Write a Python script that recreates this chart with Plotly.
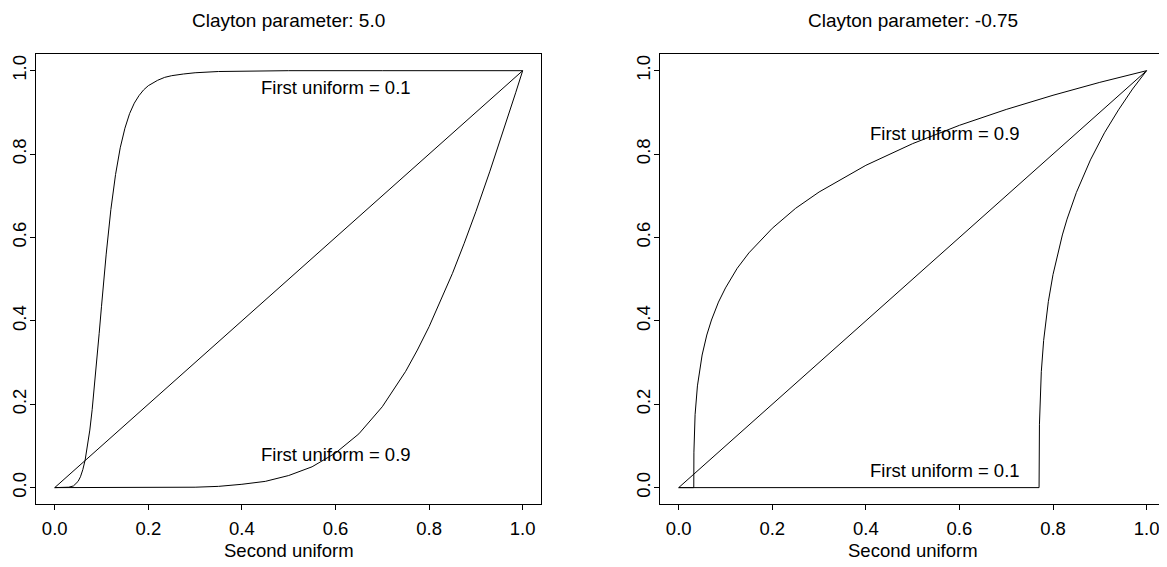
import plotly.graph_objects as go

# ---- data ----
titles = ["Clayton parameter: 5.0", "Clayton parameter: -0.75"]
x_label = "Second uniform"
x_ticks = [0.0, 0.2, 0.4, 0.6, 0.8, 1.0]
tick_text = ["0.0", "0.2", "0.4", "0.6", "0.8", "1.0"]

diag_x = [0.0, 1.0]
diag_y = [0.0, 1.0]

# left panel (theta = 5.0), first uniform = 0.1
l_u01_x = [0.0, 0.02, 0.03, 0.04, 0.05, 0.055, 0.06, 0.065, 0.07, 0.075, 0.08, 0.085,
           0.09, 0.095, 0.10, 0.105, 0.11, 0.12, 0.13, 0.14, 0.15, 0.16, 0.17, 0.18,
           0.19, 0.20, 0.21, 0.22, 0.235, 0.25, 0.275, 0.30, 0.35, 0.40, 0.50, 0.70, 1.0]
l_u01_y = [0.0, 0.0, 0.001, 0.004, 0.015, 0.026, 0.043, 0.066, 0.098, 0.138, 0.187, 0.243,
           0.305, 0.370, 0.435, 0.500, 0.560, 0.667, 0.751, 0.815, 0.862, 0.897, 0.922, 0.940,
           0.954, 0.964, 0.971, 0.977, 0.984, 0.988, 0.992, 0.995, 0.998, 0.999, 1.0, 1.0, 1.0]

# left panel, first uniform = 0.9
l_u09_x = [0.0, 0.1, 0.2, 0.3, 0.35, 0.4, 0.45, 0.5, 0.55, 0.6, 0.65, 0.7, 0.75,
           0.775, 0.8, 0.825, 0.85, 0.875, 0.9, 0.93, 0.95, 0.97, 0.985, 1.0]
l_u09_y = [0.0, 0.0, 0.0, 0.001, 0.003, 0.008, 0.015, 0.029, 0.05, 0.083, 0.129, 0.194,
           0.279, 0.330, 0.386, 0.448, 0.514, 0.586, 0.662, 0.759, 0.826, 0.895, 0.947, 1.0]

# right panel (theta = -0.75), first uniform = 0.9
r_u09_x = [0.0, 0.0322, 0.0325, 0.033, 0.035, 0.04, 0.045, 0.05, 0.06, 0.07, 0.085,
           0.10, 0.125, 0.15, 0.20, 0.25, 0.30, 0.40, 0.50, 0.60, 0.70, 0.80, 0.90, 1.0]
r_u09_y = [0.0, 0.0, 0.085, 0.116, 0.175, 0.244, 0.287, 0.318, 0.366, 0.402, 0.445,
           0.479, 0.526, 0.563, 0.622, 0.670, 0.709, 0.773, 0.825, 0.869, 0.907, 0.941,
           0.972, 1.0]

# right panel, first uniform = 0.1
r_u01_x = [0.0, 0.7702, 0.771, 0.7725, 0.775, 0.78, 0.79, 0.80, 0.82, 0.83, 0.85, 0.88,
           0.91, 0.94, 0.97, 1.0]
r_u01_y = [0.0, 0.0, 0.152, 0.218, 0.278, 0.353, 0.446, 0.511, 0.606, 0.644, 0.708, 0.786,
           0.851, 0.906, 0.956, 1.0]

labels = [
    ("x", "y", 0.6, 0.96, "First uniform = 0.1"),
    ("x", "y", 0.6, 0.08, "First uniform = 0.9"),
    ("x2", "y2", 0.57, 0.85, "First uniform = 0.9"),
    ("x2", "y2", 0.57, 0.04, "First uniform = 0.1"),
]

FONT = "Liberation Sans, Arial, sans-serif"
FS = 18.5
W, H = 1159, 559  # page body has an 8px offset
line = dict(color="black", width=1)

fig = go.Figure()
for xa, ya, sets in [
    ("x", "y", [(l_u01_x, l_u01_y), (l_u09_x, l_u09_y), (diag_x, diag_y)]),
    ("x2", "y2", [(r_u09_x, r_u09_y), (r_u01_x, r_u01_y), (diag_x, diag_y)]),
]:
    for xs, ys in sets:
        fig.add_trace(go.Scatter(x=xs, y=ys, mode="lines", line=line,
                                 xaxis=xa, yaxis=ya, showlegend=False,
                                 hoverinfo="skip"))

ax_common = dict(
    range=[-0.04, 1.04], showgrid=False, zeroline=False, showline=True,
    linecolor="black", linewidth=1, mirror=True, ticks="outside", ticklen=5,
    tickcolor="black", tickwidth=1, tickvals=x_ticks, ticktext=tick_text,
    tickfont=dict(family=FONT, size=FS, color="black"), automargin=False,
)

ydom = [(H - 496.3) / H, (H - 46) / H]
lx = [28 / W, 533.4 / W]
rx = [652 / W, 1157.3 / W]
fig.update_layout(
    width=W, height=H, margin=dict(l=0, r=0, t=0, b=0, autoexpand=False),
    paper_bgcolor="white", plot_bgcolor="white",
    font=dict(family=FONT, size=FS, color="black"),
    xaxis=dict(domain=lx, anchor="y", ticklabelstandoff=2, **ax_common),
    yaxis=dict(domain=ydom, anchor="x", tickangle=-90, ticklabelstandoff=-3, **ax_common),
    xaxis2=dict(domain=rx, anchor="y2", ticklabelstandoff=2, **ax_common),
    yaxis2=dict(domain=ydom, anchor="x2", tickangle=-90, ticklabelstandoff=-3, **ax_common),
)

# titles and x-axis labels
for t, dom in zip(titles, [lx, rx]):
    cx = (dom[0] + dom[1]) / 2
    fig.add_annotation(text=t, xref="paper", yref="paper", x=cx, y=1 - 12.5 / H,
                       showarrow=False, xanchor="center", yanchor="middle",
                       font=dict(family=FONT, size=19, color="black"))
    fig.add_annotation(text=x_label, xref="paper", yref="paper", x=cx, y=1 - 542 / H,
                       showarrow=False, xanchor="center", yanchor="middle",
                       font=dict(family=FONT, size=FS, color="black"))

for xa, ya, x, y, t in labels:
    fig.add_annotation(text=t, xref=xa, yref=ya, x=x, y=y, showarrow=False,
                       xanchor="center", yanchor="middle",
                       font=dict(family=FONT, size=FS, color="black"))

fig.write_html("out.html")
